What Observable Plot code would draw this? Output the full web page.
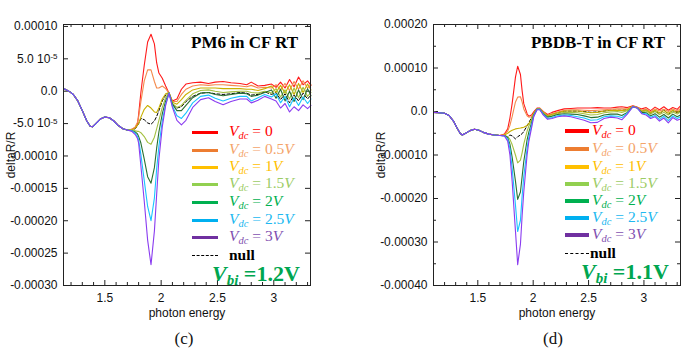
<!DOCTYPE html>
<html><head><meta charset="utf-8">
<script src="https://cdn.jsdelivr.net/npm/d3@7"></script>
<script src="https://cdn.jsdelivr.net/npm/@observablehq/plot@0.6"></script>
<style>
body{margin:0;background:#fff;}
#wrap{position:relative;width:700px;height:354px;overflow:hidden;font-family:"Liberation Sans",Arial,sans-serif;}
.panel{position:absolute;top:0;width:350px;height:354px;}
.panel svg{position:absolute;left:0;top:0;}
.title{position:absolute;font-family:"Liberation Serif","Times New Roman",serif;font-weight:bold;font-size:17px;line-height:20px;color:#000;white-space:nowrap;}
.lline{position:absolute;height:3px;}
.ltext{position:absolute;font-family:"Liberation Serif","Times New Roman",serif;font-size:15.5px;line-height:14px;white-space:nowrap;}
.ltext sub{font-size:10.5px;vertical-align:-3px;line-height:0;}
.dash{position:absolute;height:0;border-top:1.2px dashed #000;}
.vbi{position:absolute;font-family:"Liberation Serif","Times New Roman",serif;font-weight:bold;font-size:22px;line-height:18px;color:#00a650;white-space:nowrap;}
.vbi sub{font-size:15px;vertical-align:-4px;line-height:0;}
.cap{position:absolute;font-family:"Liberation Serif","Times New Roman",serif;font-size:17px;line-height:20px;color:#111;transform:translateX(-50%);}
</style></head>
<body><div id="wrap"></div>
<script>
// ---------- data (deltaR/R in units of 1e-5) ----------
const seriesNames = ["0","0.5V","1V","1.5V","2V","2.5V","3V"];
const lineColors = ["#ff1a1a","#f48a4c","#c8b000","#a4c040","#2a7030","#18c4ff","#8a3cf0"];
const legendLineColors = ["#ff0000","#ed7d31","#ffc000","#92d050","#00b050","#00b0f0","#7030a0"];
const legendTextColors = ["#ff0000","#f4a46a","#ffc000","#9ccc65","#00b050","#20b8f0","#7f4fb0"];

// Panel (c): PM6
const leftBaseX = [1.133,1.16,1.19,1.22,1.26,1.30,1.34,1.37,1.39,1.42,1.46,1.50,1.54,1.58,1.62,1.66,1.70];
const leftBaseY = [0.4,0.2,-0.1,-0.5,-1.5,-3.0,-4.6,-5.4,-5.5,-5.0,-4.3,-4.0,-4.1,-4.6,-5.3,-5.8,-6.0];
const leftX = [1.74,1.77,1.79,1.80,1.82,1.85,1.88,1.91,1.94,1.96,1.98,2.01,2.04,2.07,
  2.10,2.14,2.18,2.22,2.28,2.35,2.42,2.48,2.55,2.62,2.70,2.76,2.80,2.86,2.92,2.98,3.02,3.06,3.10,3.14,3.18,3.22,3.26,3.30,3.33];
const leftRed    = [-5.9,-5.6,-5.1,-3.6,-0.2,4.0,7.6,8.8,7.3,4.4,2.8,2.0,0.8,-0.3,
  -1.5,-1.2,0.3,1.1,1.3,1.4,1.2,1.4,1.5,1.3,1.2,1.0,1.4,0.8,0.9,1.1,0.6,1.4,0.5,1.8,0.7,2.2,1.0,1.6,0.9];
const leftOrange = [-5.9,-5.5,-4.8,-4.0,-1.6,1.6,3.3,3.3,1.5,0.5,0.5,0.8,0.4,-0.3,
  -1.6,-1.6,-0.5,0.3,0.8,1.0,0.9,1.0,1.0,0.9,0.8,0.7,0.9,0.5,0.6,0.5,1.0,0.2,1.2,0.1,1.5,0.3,1.6,0.5,1.0];
const leftYellow = [-6.0,-5.7,-5.2,-5.0,-4.0,-2.8,-2.2,-2.6,-3.2,-3.3,-2.6,-1.2,-0.4,-0.2,
  -1.7,-2.0,-1.3,-0.5,0.2,0.5,0.5,0.5,0.4,0.4,0.4,0.3,0.3,0.1,0.4,0.8,-0.2,0.9,-0.3,1.0,-0.5,1.2,-0.2,1.1,0.2];
const leftLGreen = [-6.0,-6.1,-6.2,-6.2,-6.4,-7.0,-7.9,-8.2,-7.1,-5.8,-4.5,-2.5,-1.0,-0.2,
  -1.9,-2.5,-2.2,-1.4,-0.4,0.1,0.2,0.0,-0.2,-0.1,0.0,0.0,-0.2,-0.3,0.0,-0.3,0.4,-0.9,0.2,-1.2,0.5,-1.0,0.6,-0.8,-0.2];
const leftGreen  = [-6.1,-6.3,-6.6,-7.0,-8.0,-10.5,-13.2,-14.2,-11.8,-8.8,-6.3,-3.5,-1.5,-0.3,
  -2.0,-3.0,-3.0,-2.2,-1.0,-0.3,-0.2,-0.5,-0.7,-0.5,-0.3,-0.4,-0.8,-0.6,-0.2,0.2,-1.1,0.3,-1.5,0.0,-1.6,0.2,-1.3,0.4,-0.7];
const leftCyan   = [-6.1,-6.5,-7.0,-7.5,-9.8,-13.8,-17.8,-20.0,-16.5,-12.0,-8.5,-4.6,-2.0,-0.3,
  -2.3,-3.8,-4.2,-3.4,-1.8,-0.8,-0.6,-1.1,-1.5,-1.1,-0.8,-0.8,-1.5,-1.0,-0.5,-0.9,-0.4,-1.8,-0.8,-2.4,-1.0,-2.2,-0.9,-1.9,-1.2];
const leftPurple = [-6.2,-6.7,-7.3,-8.0,-11.5,-17.0,-23.0,-26.8,-21.6,-16.0,-10.5,-5.5,-2.2,-0.3,
  -2.5,-4.5,-5.2,-4.5,-2.5,-1.3,-1.0,-1.6,-2.1,-1.6,-1.2,-1.2,-1.8,-1.4,-0.8,-1.2,-1.5,-2.6,-1.9,-3.2,-2.4,-3.0,-2.1,-2.7,-2.2];
const leftNull   = [-6.0,-5.8,-5.3,-5.0,-4.2,-4.4,-4.9,-5.1,-4.6,-3.9,-3.0,-1.5,-0.6,-0.2,
  -2.0,-2.6,-2.4,-1.6,-0.8,-0.3,-0.2,-0.4,-0.5,-0.4,-0.2,-0.3,-0.6,-0.5,-0.1,-0.5,-0.2,-1.3,-0.4,-1.8,-0.6,-1.5,-0.3,-1.2,-0.6];

// Panel (d): PBDB-T
const rightBaseX = [1.10,1.15,1.20,1.24,1.28,1.31,1.34,1.36,1.39,1.43,1.47,1.51,1.55,1.60,1.65,1.70];
const rightBaseY = [-0.2,-0.3,-0.4,-0.9,-2.2,-3.7,-5.0,-5.4,-5.0,-4.4,-4.1,-4.3,-4.8,-5.2,-5.4,-5.5];
const rightX = [1.74,1.77,1.79,1.81,1.84,1.86,1.885,1.90,1.915,1.945,1.96,1.985,2.005,2.035,
  2.06,2.09,2.13,2.17,2.22,2.28,2.34,2.40,2.46,2.52,2.58,2.64,2.70,2.76,2.80,2.85,2.90,2.94,2.98,3.02,3.06,3.10,3.14,3.18,3.22,3.26,3.30,3.33];
const rightRed    = [-5.2,-4.0,-1.5,1.8,7.9,10.4,8.5,4.8,1.8,-0.5,-1.1,-0.8,-0.1,0.8,
  0.8,0.0,-0.7,-0.2,0.2,0.6,0.7,0.8,0.8,0.8,0.9,0.8,0.8,1.0,1.1,0.9,1.3,1.0,0.6,0.9,0.2,1.0,0.4,1.1,0.3,0.9,0.5,1.3];
const rightOrange = [-5.3,-4.5,-3.2,-1.2,2.2,3.3,3.4,2.2,0.6,-1.0,-1.3,-1.2,-0.4,0.7,
  0.7,-0.1,-0.9,-0.5,-0.1,0.3,0.4,0.4,0.3,0.2,0.3,0.4,0.5,0.6,0.6,0.6,1.2,0.9,0.3,0.6,-0.1,0.6,0.1,0.5,0.0,0.6,0.1,0.7];
const rightYellow = [-5.4,-5.0,-4.6,-4.3,-4.0,-3.9,-3.8,-3.7,-3.6,-3.2,-2.8,-1.8,-0.4,0.6,
  0.6,-0.2,-1.0,-0.7,-0.3,0.1,0.1,0.1,-0.1,-0.3,-0.2,0.1,0.2,0.3,0.2,0.4,1.2,0.9,0.1,0.3,-0.3,0.3,-0.3,0.2,-0.4,0.3,-0.2,0.3];
const rightLGreen = [-5.5,-5.8,-6.4,-7.6,-10.0,-11.8,-11.2,-9.5,-7.5,-4.5,-3.4,-2.0,-0.6,0.5,
  0.6,-0.3,-1.2,-0.9,-0.5,-0.2,-0.2,-0.3,-0.5,-0.8,-0.7,-0.3,-0.1,0.0,-0.2,0.2,1.1,0.9,-0.1,0.1,-0.6,0.0,-0.7,-0.2,-0.8,-0.1,-0.6,-0.1];
const rightGreen  = [-5.5,-6.0,-7.5,-10.5,-16.0,-20.2,-18.5,-15.0,-11.5,-6.5,-4.8,-2.6,-0.8,0.5,
  0.5,-0.5,-1.3,-1.1,-0.7,-0.5,-0.6,-0.7,-1.0,-1.4,-1.3,-0.8,-0.6,-0.6,-0.9,-0.2,1.1,0.8,-0.2,-0.3,-1.0,-0.5,-1.3,-0.7,-1.5,-0.6,-1.2,-0.8];
const rightCyan   = [-5.6,-6.3,-8.5,-13.0,-21.5,-27.6,-25.0,-19.5,-15.0,-8.5,-6.0,-3.2,-1.0,0.5,
  0.5,-0.6,-1.6,-1.4,-1.0,-0.8,-0.9,-1.2,-1.5,-2.0,-1.9,-1.2,-1.0,-1.1,-1.4,-0.4,1.1,0.8,-0.4,-0.5,-1.3,-0.9,-1.8,-1.1,-2.1,-1.0,-1.6,-1.2];
const rightPurple = [-5.6,-6.8,-10.0,-16.0,-27.5,-35.2,-30.5,-24.0,-18.5,-10.0,-7.0,-3.8,-1.2,0.4,
  0.4,-0.8,-1.8,-1.6,-1.2,-1.0,-1.2,-1.6,-2.0,-2.6,-2.5,-1.6,-1.3,-1.5,-1.9,-0.6,1.1,0.8,-0.5,-0.8,-1.6,-1.2,-2.2,-1.5,-2.6,-1.4,-2.0,-1.7];
const rightNull   = [-5.6,-5.8,-5.4,-5.6,-6.3,-5.8,-5.4,-5.1,-4.6,-3.3,-2.6,-1.4,-0.2,0.7,
  0.6,-0.2,-1.0,-0.6,-0.3,0.1,0.1,0.1,0.0,-0.2,-0.1,0.1,0.3,0.3,0.3,0.4,1.2,0.8,0.0,0.4,-0.5,0.2,-0.6,0.4,-0.7,0.2,-0.3,0.1];

// ticks
const xTicks = [1.5,2,2.5,3];
const xLabels = ["1.5","2","2.5","3"];
const xMinor = [1.2,1.3,1.4,1.6,1.7,1.8,1.9,2.1,2.2,2.3,2.4,2.6,2.7,2.8,2.9,3.1,3.2,3.3];
const leftYTicks = [0.0001,0.00005,0,-0.00005,-0.0001,-0.00015,-0.0002,-0.00025,-0.0003];
const leftYLabels = ["0.00010","5.0 10^-5","0.0","-5.0 10^-5","-0.00010","-0.00015","-0.00020","-0.00025","-0.00030"];
const rightYTicks = [0.0002,0.0001,0,-0.0001,-0.0002,-0.0003,-0.0004];
const rightYLabels = ["0.00020","0.00010","0.0","-0.00010","-0.00020","-0.00030","-0.00040"];
const rightYMinor = [0.00015,0.00005,-0.00005,-0.00015,-0.00025,-0.00035];

const SCALE = 1e-5;

function rows(baseX, baseY, xs, vals) {
  const out = baseX.map((x,i)=>({x, y: baseY[i]*SCALE}));
  xs.forEach((x,i)=>out.push({x, y: vals[i]*SCALE}));
  return out;
}

function makePanel(cfg) {
  const W = 350, H = 322;
  const pw = W - cfg.ml - cfg.mr, ph = H - cfg.mt - cfg.mb;
  const marks = [];
  const fr = "#222";
  const minor = xMinor.filter(v=>v>cfg.xd[0]&&v<cfg.xd[1]);
  marks.push(Plot.tickX(xTicks, {x: d=>d, stroke: fr, insetTop: ph-5}));
  marks.push(Plot.tickX(xTicks, {x: d=>d, stroke: fr, insetBottom: ph-5}));
  marks.push(Plot.tickX(minor, {x: d=>d, stroke: fr, insetTop: ph-3}));
  marks.push(Plot.tickX(minor, {x: d=>d, stroke: fr, insetBottom: ph-3}));
  marks.push(Plot.tickY(cfg.yTicks, {y: d=>d, stroke: fr, insetRight: pw-5}));
  marks.push(Plot.tickY(cfg.yTicks, {y: d=>d, stroke: fr, insetLeft: pw-5}));
  if (cfg.yMinor) {
    marks.push(Plot.tickY(cfg.yMinor, {y: d=>d, stroke: fr, insetRight: pw-3}));
    marks.push(Plot.tickY(cfg.yMinor, {y: d=>d, stroke: fr, insetLeft: pw-3}));
  }
  marks.push(Plot.line(rows(cfg.baseX, cfg.baseY, cfg.xs, cfg.nullVals), {x:"x", y:"y", stroke:"#000", strokeWidth:1, strokeDasharray:"3,2"}));
  cfg.series.forEach((vals, k) => {
    marks.push(Plot.line(rows(cfg.baseX, cfg.baseY, cfg.xs, vals), {x:"x", y:"y", stroke: lineColors[k], strokeWidth: 1.1}));
  });
  marks.push(Plot.frame({stroke: fr, strokeWidth: 1}));
  marks.push(Plot.axisX({ticks: xTicks, tickFormat: d => xLabels[xTicks.indexOf(d)], tickSize: 0, tickPadding: 8, fontSize: 12,
    label: "photon energy", labelAnchor: "center", labelOffset: 31, labelArrow: "none"}));
  marks.push(Plot.axisY({ticks: cfg.yTicks, tickFormat: d => cfg.yLabels[cfg.yTicks.indexOf(d)], tickSize: 0, tickPadding: 6, fontSize: 12,
    label: "deltaR/R", labelAnchor: "center", labelOffset: cfg.labelOffset, labelArrow: "none"}));
  const svg = Plot.plot({
    width: W, height: H,
    marginLeft: cfg.ml, marginRight: cfg.mr, marginTop: cfg.mt, marginBottom: cfg.mb,
    x: {domain: cfg.xd, type: "linear"},
    y: {domain: cfg.yd, type: "linear"},
    style: {fontSize: "11px", fontFamily: "'Liberation Sans', Arial, sans-serif", color: "#111", background: "transparent"},
    marks
  });
  d3.select(svg).selectAll("text").each(function() {
    const t = d3.select(this);
    const s = t.text();
    if (s.includes("10^")) {
      const [a, b] = s.split("^");
      t.text(a);
      t.append("tspan").attr("dy", "-0.45em").attr("font-size", "8px").text(b);
    }
  });
  return svg;
}

function legendHTML(panel, L) {
  seriesNames.forEach((nm, k) => {
    const y = L.rows[k];
    const ln = document.createElement("div");
    ln.className = "lline";
    ln.style.cssText = `left:${L.lx}px;top:${y - L.lh/2}px;width:${L.lw}px;height:${L.lh}px;background:${legendLineColors[k]}`;
    panel.appendChild(ln);
    const tx = document.createElement("div");
    tx.className = "ltext";
    tx.style.cssText = `left:${L.tx}px;top:${y - 8}px;color:${legendTextColors[k]}`;
    const num = nm.endsWith("V") ? nm.slice(0, -1) + "<i>V</i>" : nm;
    tx.innerHTML = `<i>V</i><sub><i>dc</i></sub> = ${num}`;
    panel.appendChild(tx);
  });
  const y = L.rows[7];
  const ds = document.createElement("div");
  ds.className = "dash";
  ds.style.cssText = `left:${L.lx}px;top:${y}px;width:${L.lw}px`;
  panel.appendChild(ds);
  const nt = document.createElement("div");
  nt.className = "ltext";
  nt.style.cssText = `left:${L.nx}px;top:${y - 7}px;color:#000;font-weight:bold`;
  nt.textContent = "null";
  panel.appendChild(nt);
  const vb = document.createElement("div");
  vb.className = "vbi";
  vb.style.cssText = `left:${L.vx}px;top:${L.vy - 8}px`;
  vb.innerHTML = `<i>V</i><sub><i>bi</i></sub> =${L.vbi}`;
  panel.appendChild(vb);
}

const wrap = document.getElementById("wrap");
const panels = [
  {off: 0, ml: 63, mr: 40, mt: 24, mb: 37, xd: [1.133, 3.326], yd: [-0.0003, 0.000103],
   yTicks: leftYTicks, yLabels: leftYLabels, yMinor: null, labelOffset: 57,
   baseX: leftBaseX, baseY: leftBaseY, xs: leftX, nullVals: leftNull,
   series: [leftRed, leftOrange, leftYellow, leftLGreen, leftGreen, leftCyan, leftPurple],
   title: "PM6 in CF RT", titleRight: 52, cap: "(c)", capX: 184,
   L: {lx: 192, lw: 26, lh: 3, tx: 229, nx: 229, rows: [132,150,167,184,202,220,237,255], vx: 212, vy: 273, vbi: "1.2V"}},
  {off: 350, ml: 83, mr: 20, mt: 24, mb: 37, xd: [1.10, 3.33], yd: [-0.0004, 0.0002],
   yTicks: rightYTicks, yLabels: rightYLabels, yMinor: rightYMinor, labelOffset: 57,
   baseX: rightBaseX, baseY: rightBaseY, xs: rightX, nullVals: rightNull,
   series: [rightRed, rightOrange, rightYellow, rightLGreen, rightGreen, rightCyan, rightPurple],
   title: "PBDB-T in CF RT", titleRight: 35, cap: "(d)", capX: 203,
   L: {lx: 215, lw: 24, lh: 3.5, tx: 242, nx: 240, rows: [131,149,167,184,201,218,235,253], vx: 231, vy: 271, vbi: "1.1V"}}
];
panels.forEach(cfg => {
  const p = document.createElement("div");
  p.className = "panel";
  p.style.left = cfg.off + "px";
  wrap.appendChild(p);
  p.appendChild(makePanel(cfg));
  const t = document.createElement("div");
  t.className = "title";
  t.style.cssText = `right:${cfg.titleRight}px;top:33px`;
  t.textContent = cfg.title;
  p.appendChild(t);
  legendHTML(p, cfg.L);
  const c = document.createElement("div");
  c.className = "cap";
  c.style.cssText = `left:${cfg.capX}px;top:329px`;
  c.textContent = cfg.cap;
  p.appendChild(c);
});
</script>
</body></html>
